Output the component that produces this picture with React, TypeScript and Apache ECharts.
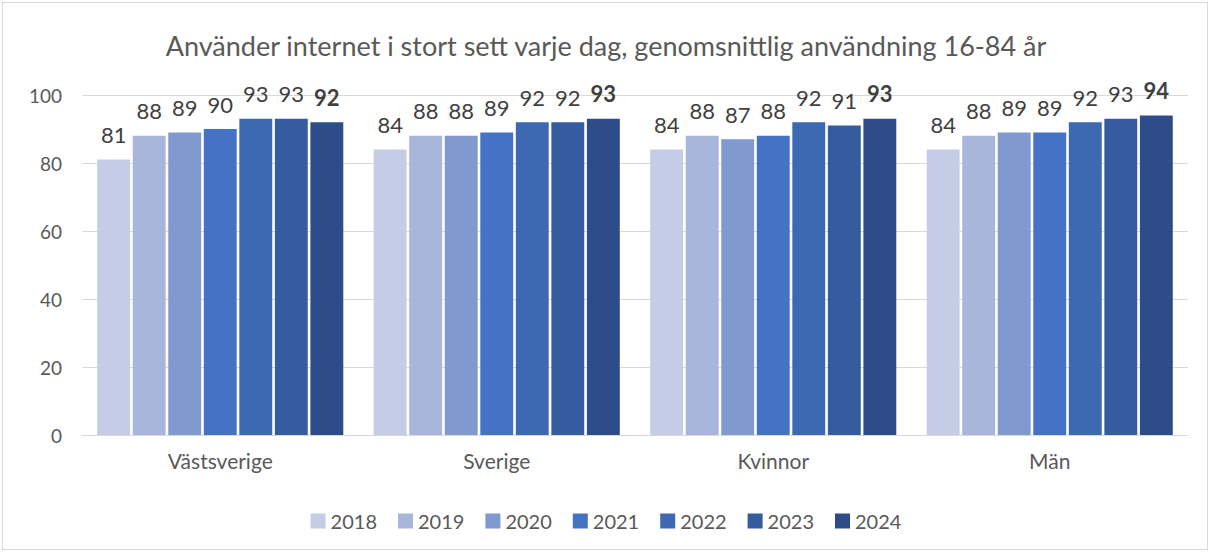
import React, { useEffect, useRef } from "react";
import * as echarts from "echarts";

const categories = ["Västsverige", "Sverige", "Kvinnor", "Män"];
const years = ["2018", "2019", "2020", "2021", "2022", "2023", "2024"];
const v2018 = [81, 84, 84, 84];
const v2019 = [88, 88, 88, 88];
const v2020 = [89, 88, 87, 89];
const v2021 = [90, 89, 88, 89];
const v2022 = [93, 92, 92, 92];
const v2023 = [93, 92, 91, 93];
const v2024 = [92, 93, 93, 94];
const values = [v2018, v2019, v2020, v2021, v2022, v2023, v2024];
const colors = ["#C5CCE5", "#A8B6DB", "#8099CF", "#4472C4", "#3D68B2", "#365CA0", "#2E4C88"];
const title = "Använder internet i stort sett varje dag, genomsnittlig användning 16-84 år";

export default function App() {
  const ref = useRef<HTMLDivElement>(null);
  useEffect(() => {
    const chart = echarts.init(ref.current!, null, { renderer: "svg" });
    const font = "Lato, 'Open Sans', sans-serif";
    chart.setOption({
      animation: false,
      textStyle: { fontFamily: font },
      title: {
        text: title,
        left: "center",
        top: 27,
        textStyle: { fontFamily: font, fontSize: 27, fontWeight: "normal", color: "#595959" },
      },
      legend: {
        bottom: 16,
        left: "center",
        itemWidth: 15,
        itemHeight: 15,
        itemGap: 21,
        icon: "rect",
        textStyle: { fontFamily: font, fontSize: 20, color: "#595959" },
        data: years,
      },
      grid: { left: 82, right: 24, top: 95, bottom: 117 },
      xAxis: {
        type: "category",
        data: categories,
        axisLine: { lineStyle: { color: "#D9D9D9" } },
        axisTick: { show: false },
        axisLabel: { fontFamily: font, fontSize: 21, color: "#595959", margin: 15 },
      },
      yAxis: {
        type: "value",
        min: 0,
        max: 100,
        interval: 20,
        axisLine: { show: false },
        axisTick: { show: false },
        splitLine: { lineStyle: { color: "#D9D9D9" } },
        axisLabel: { fontFamily: font, fontSize: 19, color: "#595959", margin: 20 },
      },
      series: years.map((y, i) => ({
        name: y,
        type: "bar",
        data: values[i],
        barGap: "8%",
        barCategoryGap: "11%",
        itemStyle: { color: colors[i] },
        label: {
          show: true,
          position: "top",
          distance: 14,
          fontFamily: font,
          fontSize: 22,
          color: "#404040",
          fontWeight: i === 6 ? "bold" : "normal",
        },
      })),
    });
    return () => chart.dispose();
  }, []);
  return (
    <div style={{ position: "absolute", left: 0, top: 0, width: 1212, height: 552, background: "#fff" }}>
      <div style={{ position: "absolute", left: 2, top: 2, width: 1204, height: 546, border: "1px solid #D9D9D9" }} />
      <div ref={ref} style={{ position: "absolute", left: 0, top: 0, width: 1212, height: 552 }} />
    </div>
  );
}
